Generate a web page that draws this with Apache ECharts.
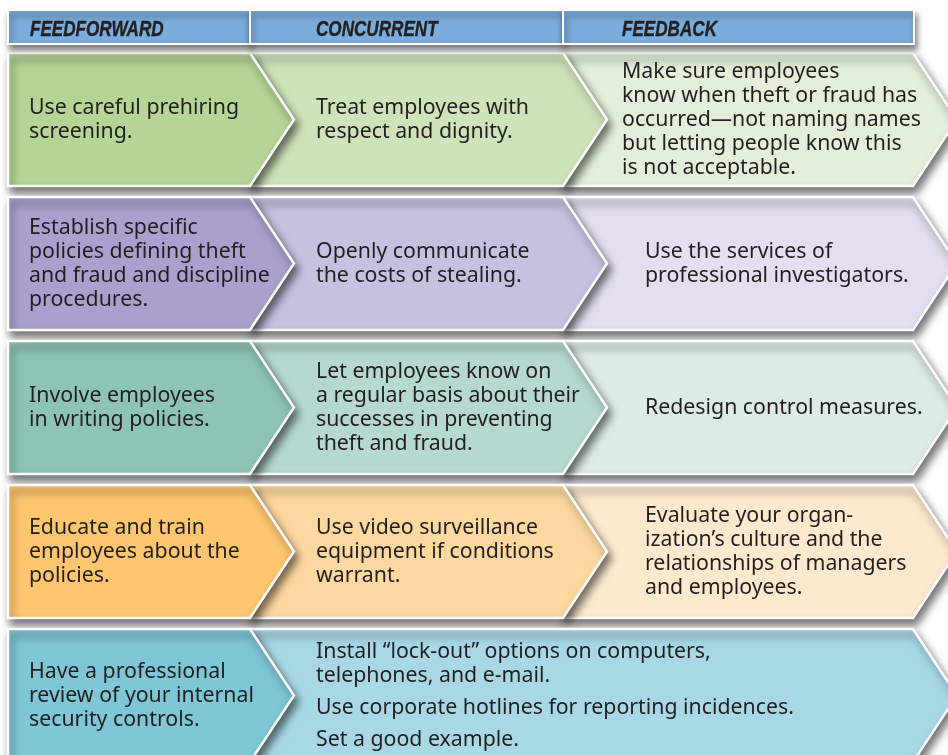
<!DOCTYPE html>
<html><head><meta charset="utf-8">
<script src="https://cdn.jsdelivr.net/npm/echarts@6/dist/echarts.min.js"></script>
<style>html,body{margin:0;padding:0;background:#fff;overflow:hidden}#c{width:948px;height:755px}</style>
</head><body><div id="c"></div><script>
// ---------- DATA ----------
const columns = ['FEEDFORWARD', 'CONCURRENT', 'FEEDBACK'];
const feedforward = [
  'Use careful prehiring\nscreening.',
  'Establish specific\npolicies defining theft\nand fraud and discipline\nprocedures.',
  'Involve employees\nin writing policies.',
  'Educate and train\nemployees about the\npolicies.',
  'Have a professional\nreview of your internal\nsecurity controls.'
];
const concurrent = [
  'Treat employees with\nrespect and dignity.',
  'Openly communicate\nthe costs of stealing.',
  'Let employees know on\na regular basis about their\nsuccesses in preventing\ntheft and fraud.',
  'Use video surveillance\nequipment if conditions\nwarrant.',
  'Install \u201clock-out\u201d options on computers,\ntelephones, and e-mail.\n\nUse corporate hotlines for reporting incidences.\n\nSet a good example.'
];
const feedback = [
  'Make sure employees\nknow when theft or fraud has\noccurred\u2014not naming names\nbut letting people know this\nis not acceptable.',
  'Use the services of\nprofessional investigators.',
  'Redesign control measures.',
  'Evaluate your organ-\nization\u2019s culture and the\nrelationships of managers\nand employees.',
  null // merged with CONCURRENT in the last row
];

// ---------- STYLE / LAYOUT ----------
const headerColor = '#7aacdc';
const rowColors = [
  ['#b5d495', '#cfe3ba', '#e3efda'],
  ['#a9a0cd', '#c6c1e1', '#e3dff0'],
  ['#8ec4b8', '#b5d8cf', '#dcebe6'],
  ['#fdc66f', '#fdd9a0', '#fdeace'],
  ['#7fc6d7', '#a8d8e6', '#a8d8e6']
];
const L = {
  colEdge: [8, 250, 563, 913],
  tip: 44,
  headTop: 10, headBottom: 44,
  rowTop: 53, rowPitch: 144, rowH: 133,
  textX: [29, 316, 645],
  feedbackTextX: [622, 645, 645, 645, 645],
  headTextX: [30, 316, 622],
  lineH: 24, paraGap: 8,
  font: 'Noto Sans', fontSize: 21.3, textColor: '#231f20'
};
const cols = [feedforward, concurrent, feedback];

const cells = [];
for (let r = 0; r < 5; r++) {
  for (let c = 2; c >= 0; c--) {
    if (cols[c][r] === null) continue;
    cells.push([r, c]);
  }
}

function cellPoly(r, c) {
  const top = L.rowTop + r * L.rowPitch, bot = top + L.rowH, mid = (top + bot) / 2;
  const left = L.colEdge[c];
  let right = L.colEdge[c + 1];
  if (c === 1 && feedback[r] === null) right = L.colEdge[3];
  return [[left, top], [right, top], [right + L.tip, mid], [right, bot], [left, bot]];
}

const chart = echarts.init(document.getElementById('c'), null, {renderer: 'canvas'});
chart.setOption({
  animation: false,
  backgroundColor: '#ffffff',
  grid: {left: 0, right: 0, top: 0, bottom: 0},
  xAxis: {type: 'value', min: 0, max: 948, show: false},
  yAxis: {type: 'value', min: 0, max: 755, inverse: true, show: false},
  series: [
    {
      // header bar
      type: 'custom', coordinateSystem: 'cartesian2d', clip: false,
      encode: {x: -1, y: -1},
      data: columns.map((name, i) => [i]),
      renderItem: function (params, api) {
        const i = api.value(0);
        const p0 = api.coord([L.colEdge[i], L.headTop]);
        const p1 = api.coord([L.colEdge[i + 1] + (i === 2 ? 1 : 0), L.headBottom]);
        const t = api.coord([L.headTextX[i], (L.headTop + L.headBottom) / 2 + 2.5]);
        return {
          type: 'group',
          children: [
            {type: 'rect', z2: 1,
              shape: {x: p0[0], y: p0[1], width: p1[0] - p0[0], height: p1[1] - p0[1]},
              style: {fill: headerColor, stroke: '#ffffff', lineWidth: 2,
                shadowBlur: 6, shadowOffsetX: 2, shadowOffsetY: 5, shadowColor: 'rgba(0,0,0,0.5)'}},
            {type: 'text', z2: 5, x: t[0], y: t[1], scaleX: 0.76,
              style: {text: columns[i], x: 0, y: 0, fill: L.textColor,
                stroke: L.textColor, lineWidth: 0.4,
                fontFamily: 'Liberation Sans', fontWeight: 'bold', fontStyle: 'italic', fontSize: 22.5,
                verticalAlign: 'middle', align: 'left'}}
          ]
        };
      }
    },
    {
      // chevron cells
      type: 'custom', coordinateSystem: 'cartesian2d', clip: false,
      encode: {x: -1, y: -1},
      data: cells,
      renderItem: function (params, api) {
        const r = api.value(0), c = api.value(1);
        const pts = cellPoly(r, c).map(p => api.coord(p));
        return {
          type: 'polygon',
          shape: {points: pts},
          style: {fill: rowColors[r][c], stroke: '#ffffff', lineWidth: 2.5, lineJoin: 'miter',
            shadowBlur: 8, shadowOffsetX: 3, shadowOffsetY: 6, shadowColor: 'rgba(0,0,0,0.55)'}
        };
      }
    },
    {
      // cell texts
      type: 'custom', coordinateSystem: 'cartesian2d', clip: false,
      encode: {x: -1, y: -1},
      data: cells,
      z: 5,
      renderItem: function (params, api) {
        const r = api.value(0), c = api.value(1);
        const txt = cols[c][r];
        const paras = txt.split('\n\n').map(p => p.split('\n'));
        let total = 0;
        paras.forEach((p, i) => { total += p.length * L.lineH + (i > 0 ? L.paraGap : 0); });
        const top = L.rowTop + r * L.rowPitch, mid = top + L.rowH / 2;
        let y = mid - total / 2 + L.lineH / 2;
        const x = c === 2 ? L.feedbackTextX[r] : L.textX[c];
        const children = [];
        paras.forEach((p, i) => {
          if (i > 0) y += L.paraGap;
          p.forEach(line => {
            const pt = api.coord([x, y]);
            children.push({type: 'text', z2: 10,
              style: {text: line, x: pt[0], y: pt[1], fill: L.textColor,
                fontFamily: L.font, fontSize: L.fontSize, verticalAlign: 'middle', align: 'left'}});
            y += L.lineH;
          });
        });
        return {type: 'group', children: children};
      }
    }
  ]
});
</script></body></html>
